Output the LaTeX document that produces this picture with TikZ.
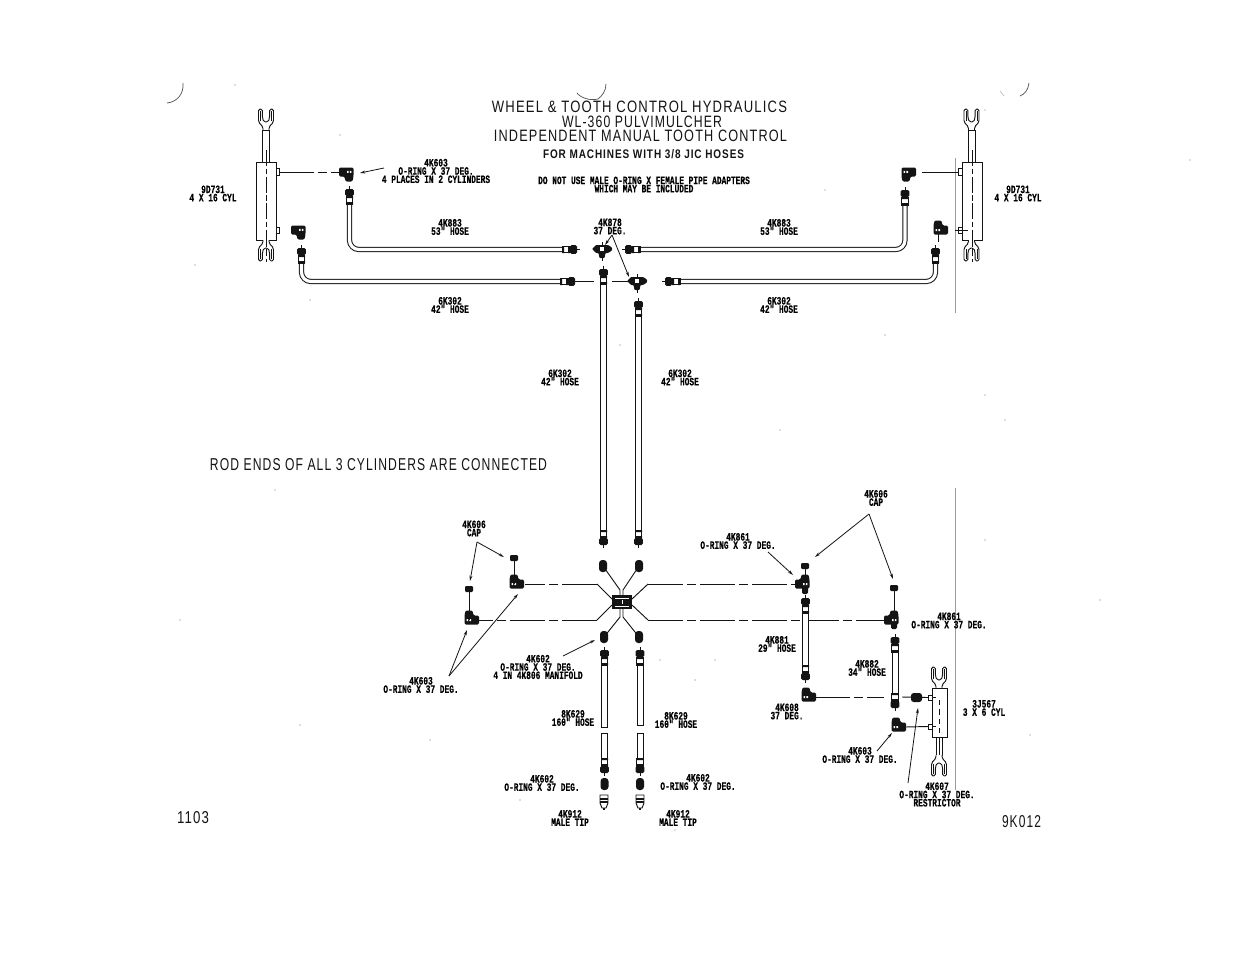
\documentclass[tikz,border=0pt]{standalone}
\usepackage{fontspec}
\usepackage{graphicx}
\usetikzlibrary{arrows.meta,calc}
\setmainfont{Liberation Sans}[LetterSpace=9]
\newfontfamily\lblfont{Liberation Mono}[FakeStretch=0.70,BoldFeatures={FakeBold=.35}]
\newcommand\lblsetup{\lblfont\bfseries\fontsize{8.4pt}{6.2pt}\selectfont\setlength{\lineskiplimit}{-10pt}}
\newlength\pxu \setlength\pxu{0.75pt}
\definecolor{ink}{HTML}{141414}
\definecolor{rule}{HTML}{9A9A9A}
\definecolor{arc}{HTML}{555555}
\definecolor{speck}{HTML}{BDBDBD}
\tikzset{
 ln/.style={draw=ink,line width=.7pt},
 thin ln/.style={draw=ink,line width=.5pt},
 dd/.style={ln,dash pattern=on 26pt off 3pt on 7pt off 3pt},
 lead/.style={draw=ink,line width=.6pt,-{Stealth[length=4pt,width=2.2pt]}},
 hose/.style={draw=ink,line width=.75pt,double=white,double distance=2.4pt,rounded corners=7pt},
 hosebar/.style={draw=ink,line width=.55pt,fill=white},
 lbl/.style={inner sep=0pt,align=center,font=\lblsetup},
 cap text/.style={inner sep=0pt,text=ink},
 hosefit/.pic={
   \draw[ln,fill=white] (0,-3.3) rectangle (8,3.3);
   \fill[ink] (0,-3.5) rectangle (2,3.5) (6,-3.5) rectangle (8,3.5);
   \fill[ink,rounded corners=1pt] (8,-4.3) rectangle (15,4.3);
   \draw[ln] (15,0) -- (18,0);},
 elbow/.pic={
   \fill[ink,rounded corners=1pt] (-4.5,-4.5) -- (10,-4.5) -- (10,4.5) -- (4.5,4.5) -- (3.5,9.5) -- (-3.5,9.5) -- (-4.5,4.5) -- cycle;
   \fill[white] (-2.4,-1.2) rectangle (-.8,.8) (.4,-1.2) rectangle (2,.8);},
 teefit/.pic={
   \fill[ink,rounded corners=.6pt] (-10,0) -- (-6,-4) -- (6,-4) -- (10,-1.5) -- (10,1.5) -- (6,4) -- (3.5,4) -- (2.5,9) -- (-2.5,9) -- (-3.5,4) -- (-6,4) -- cycle;
   \fill[white] (-1.8,-1.8) rectangle (1.8,1.8);
   \draw[ln] (0,-7) -- (0,-3) (0,8) -- (0,12);},
 nutblob/.pic={\fill[ink,rounded corners=2.4pt] (-4,-6) rectangle (4,6);},
 capblob/.pic={\fill[ink,rounded corners=.8pt] (-4,-3) rectangle (4,3);},
 tipfit/.pic={
   \draw[ln,fill=white] (-4,-7) -- (4,-7) -- (4,1) -- (2,6) -- (-2,6) -- (-4,1) -- cycle;
   \draw[ln,line width=1pt] (-4,-3) -- (4,-3) (-4,0) -- (4,0) (0,6) -- (0,8);},
 clevis/.pic={
   \draw[ln,fill=white,rounded corners=1.2pt] (-3,0) -- (-3,-3) -- (-7.5,-8) -- (-7.5,-21) -- (-3.6,-21) -- (-3.6,-12) -- (-2,-8) -- (2,-8) -- (3.6,-12) -- (3.6,-21) -- (7.5,-21) -- (7.5,-8) -- (3,-3) -- (3,0);
   \draw[thin ln] (-5.6,-19) -- (-5.6,-9) (5.6,-19) -- (5.6,-9);},
}
\begin{document}
\begin{tikzpicture}[x=.75pt,y=-.75pt]
\useasboundingbox (0,0) rectangle (1235,954);
\fill[white] (0,0) rectangle (1235,954);
% scan marks
\draw[draw=arc,line width=.55pt] (183,83) .. controls (184,94) and (177,102) .. (167,103);
\draw[draw=arc,line width=.55pt] (606,84) .. controls (606,91) and (602,96) .. (598,99) .. controls (590,101) and (581,98) .. (577,93);
\draw[draw=arc,line width=.55pt] (1029,83) .. controls (1028,90) and (1025,94) .. (1020,96);
\draw[draw=speck,line width=.5pt] (1000,91) -- (1004,96);
\foreach \p in {(235,85),(340,135),(275,490),(195,265),(310,300),(620,345),(985,395),(985,110),(1190,160),(1005,420),(660,660),(715,660),(695,680),(1100,600),(985,540),(825,190),(520,800),(675,830),(430,740),(300,725),(180,620),(1030,735),(885,335),(780,430)}
  \fill[speck] \p circle (.8);
% vertical rules
\coordinate (ruleA) at (955,158); \coordinate (ruleB) at (955,313);
\coordinate (ruleC) at (955,488); \coordinate (ruleD) at (955,790);
\draw[draw=rule,line width=.6pt] (ruleA) -- (ruleB) (ruleC) -- (ruleD);
% titles
\node[cap text] (t1) at (639.5,107) {\resizebox{295\pxu}{11.5\pxu}{WHEEL \& TOOTH CONTROL HYDRAULICS}};
\node[cap text] (t2) at (642,121.5) {\resizebox{160\pxu}{11.5\pxu}{WL-360 PULVIMULCHER}};
\node[cap text] (t3) at (640.5,136) {\resizebox{293\pxu}{11.5\pxu}{INDEPENDENT MANUAL TOOTH CONTROL}};
\node[cap text] (t4) at (643.5,154) {\resizebox{201\pxu}{9\pxu}{\bfseries FOR MACHINES WITH 3/8 JIC HOSES}};
\node[cap text] (t5) at (378.5,465) {\resizebox{337\pxu}{12\pxu}{ROD ENDS OF ALL 3 CYLINDERS ARE CONNECTED}};
\node[cap text] (t6) at (193,817.5) {\resizebox{32\pxu}{12\pxu}{1103}};
\node[cap text] (t7) at (1021.5,822) {\resizebox{39\pxu}{12\pxu}{9K012}};
% labels
\node[lbl] (a1) at (436,171) {4K603\\O-RING X 37 DEG.\\4 PLACES IN 2 CYLINDERS};
\node[lbl] (a2) at (213,193.5) {9D731\\4 X 16 CYL};
\node[lbl] (a3) at (644,184.5) {DO NOT USE MALE O-RING X FEMALE PIPE ADAPTERS\\WHICH MAY BE INCLUDED};
\node[lbl] (a4) at (450,227) {4K883\\53" HOSE};
\node[lbl] (a5) at (450,305) {6K302\\42" HOSE};
\node[lbl] (a6) at (610,226.5) {4K878\\37 DEG.};
\node[lbl] (a7) at (779,227) {4K883\\53" HOSE};
\node[lbl] (a8) at (779,305) {6K302\\42" HOSE};
\node[lbl] (a9) at (1018,193.5) {9D731\\4 X 16 CYL};
\node[lbl] (a10) at (560,377.5) {6K302\\42" HOSE};
\node[lbl] (a11) at (680,377.5) {6K302\\42" HOSE};
\node[lbl] (b1) at (474,528.5) {4K606\\CAP};
\node[lbl] (b2) at (421,685) {4K603\\O-RING X 37 DEG.};
\node[lbl] (b3) at (538,667) {4K602\\O-RING X 37 DEG.\\4 IN 4K806 MANIFOLD};
\node[lbl] (b4) at (738,541) {4K861\\O-RING X 37 DEG.};
\node[lbl] (b5) at (876,498) {4K606\\CAP};
\node[lbl] (b6) at (949,620.5) {4K861\\O-RING X 37 DEG.};
\node[lbl] (b7) at (777,644) {4K881\\29" HOSE};
\node[lbl] (b8) at (867,668) {4K882\\34" HOSE};
\node[lbl] (b9) at (787,711.5) {4K608\\37 DEG.};
\node[lbl] (b10) at (984,708) {3J567\\3 X 6 CYL};
\node[lbl] (b11) at (860,755) {4K603\\O-RING X 37 DEG.};
\node[lbl] (b12) at (937,794.5) {4K607\\O-RING X 37 DEG.\\RESTRICTOR};
\node[lbl] (c1) at (573,718) {8K629\\160" HOSE};
\node[lbl] (c2) at (676,720) {8K629\\160" HOSE};
\node[lbl] (c3) at (542,783) {4K602\\O-RING X 37 DEG.};
\node[lbl] (c4) at (698,782) {4K602\\O-RING X 37 DEG.};
\node[lbl] (c5) at (570,818) {4K912\\MALE TIP};
\node[lbl] (c6) at (678,818) {4K912\\MALE TIP};
% left 4x16 cylinder
\pic at (266,130) {clevis};
\draw[ln,fill=white] (262.5,130) rectangle (269.5,162);
\draw[ln,fill=white] (256,162) rectangle (276,240);
\draw[thin ln,dash pattern=on 12pt off 2pt on 4pt off 2pt] (266,150) -- (266,250);
\draw[ln,fill=white] (276,168.5) rectangle (279,175.5) (276,227) rectangle (279,233.5);
\pic[yscale=-1] at (266,240) {clevis};
\draw[thin ln,dash pattern=on 5pt off 2pt] (266,240) -- (266,262);
% right 4x16 cylinder
\pic at (971.5,130) {clevis};
\draw[ln,fill=white] (968.5,130) rectangle (975,162);
\draw[ln,fill=white] (962,162) rectangle (982,240);
\draw[thin ln,dash pattern=on 12pt off 2pt on 4pt off 2pt] (972,150) -- (972,250);
\draw[ln,fill=white] (958,168.5) rectangle (962,175.5) (958,227) rectangle (962,233.5);
\pic[yscale=-1] at (971.5,240) {clevis};
\draw[thin ln,dash pattern=on 5pt off 2pt] (972,240) -- (972,262);
% top elbows and port lines
\coordinate (eTL) at (349,172); \coordinate (eTLb) at (301,230);
\coordinate (eTR) at (906,172); \coordinate (eTRb) at (938,230);
\coordinate (pTL) at (279,172); \coordinate (pTR) at (958,172);
\coordinate (pTRb) at (955,230); \coordinate (pTRc) at (968,230);
\coordinate (stubTR) at (922,172); \coordinate (stubB) at (938,242);
\draw[dd] (pTL) -- ($(eTL)+(-10,0)$);
\draw[ln] (stubTR) -- (pTR);
\draw[ln] (pTRb) -- (pTRc);
\draw[ln] (eTRb) -- (stubB);
\pic[xscale=-1] at (eTL) {elbow};
\pic[xscale=-1] at (eTLb) {elbow};
\pic at (eTR) {elbow};
\pic[yscale=-1] at (eTRb) {elbow};
% top hoses
\draw[hose] (349.5,203) -- (349.5,249.5) -- (562,249.5);
\pic[rotate=90] at (349.5,204) {hosefit};
\pic at (562,249.5) {hosefit};
\draw[hose] (301.5,262) -- (301.5,281.5) -- (560,281.5);
\pic[rotate=90] at (301.5,263) {hosefit};
\pic at (560,281.5) {hosefit};
\draw[hose] (905,205) -- (905,249.5) -- (640,249.5);
\pic[rotate=90] at (905,205) {hosefit};
\pic[rotate=180] at (640,249.5) {hosefit};
\draw[hose] (935.5,263) -- (935.5,281.5) -- (680,281.5);
\pic[rotate=90] at (935.5,263) {hosefit};
\pic[rotate=180] at (680,281.5) {hosefit};
% tees
\coordinate (teeA) at (602,249); \coordinate (teeB) at (637,281);
\pic at (teeA) {teefit};
\pic at (teeB) {teefit};
\coordinate (st1) at (577,281.5); \coordinate (st2) at (594,281.5);
\coordinate (st3) at (612,281.5); \coordinate (st4) at (629,281.5);
\draw[ln] (st1) -- (st2) (st3) -- (st4);
% long vertical hoses
\draw[hosebar] (600.5,284) rectangle (606.5,530);
\pic[rotate=90] at (603.5,284) {hosefit};
\pic[rotate=-90] at (603.5,530) {hosefit};
\draw[hosebar] (635.5,316) rectangle (641.5,530);
\pic[rotate=90] at (638.5,316) {hosefit};
\pic[rotate=-90] at (638.5,530) {hosefit};
% manifold
\coordinate (nA) at (603,566); \coordinate (nB) at (639,566);
\coordinate (nC) at (604,637); \coordinate (nD) at (639,637);
\draw[ln] (nA) -- (620,590) -- (620,596);
\draw[ln] (nB) -- (623,590) -- (623,596);
\draw[ln] (nC) -- (620,617) -- (620,608);
\draw[ln] (nD) -- (623,617) -- (623,608);
\pic at (nA) {nutblob}; \pic at (nB) {nutblob};
\pic at (nC) {nutblob}; \pic at (nD) {nutblob};
\coordinate (mUL) at (612,599); \coordinate (mLL) at (612,605);
\coordinate (mUR) at (632,599); \coordinate (mLR) at (632,605);
\draw[ln] (mUL) -- (597,584) (mLL) -- (597,620) (mUR) -- (648,584) (mLR) -- (648,620);
\fill[ink] (612,595) rectangle (632,609);
\draw[white,line width=.5pt] (615,598) -- (629,598) (615,606) -- (629,606) (622,600) -- (622,604);
% cross lines
\coordinate (eL1) at (514,584); \coordinate (eL2) at (469,620);
\coordinate (eR1) at (805,584); \coordinate (eR2) at (894,620);
\draw[dd] (597,584) -- (525,584);
\draw[dd] (597,620) -- (479,620);
\draw[dd] (648,584) -- (795,584);
\draw[dd] (648,620) -- (884,620);
\pic[yscale=-1] at (eL1) {elbow};
\pic[yscale=-1] at (eL2) {elbow};
\pic[xscale=-1,yscale=-1] at (eR1) {elbow};
\pic[xscale=-1,yscale=-1] at (eR2) {elbow};
\fill[ink,rounded corners=1pt] (802,586) rectangle (808,594) (891,622) rectangle (897,629);
% caps
\coordinate (cap1) at (514,558); \coordinate (cap2) at (469,589);
\coordinate (cap3) at (805,566); \coordinate (cap4) at (894,588);
\draw[ln] (cap1) -- (eL1) (cap2) -- (eL2) (cap3) -- (eR1) (cap4) -- (eR2);
\pic at (cap1) {capblob}; \pic at (cap2) {capblob};
\pic at (cap3) {capblob}; \pic at (cap4) {capblob};
% short hoses right
\draw[hosebar] (802.5,613) rectangle (808.5,665);
\pic[rotate=90] at (805.5,613) {hosefit};
\pic[rotate=-90] at (805.5,665) {hosefit};
\draw[hosebar] (892,652) rectangle (898,693);
\pic[rotate=90] at (895,652) {hosefit};
\pic[rotate=-90] at (895,693) {hosefit};
\coordinate (eR3) at (806,697); \coordinate (eR4) at (896,727);
\coordinate (portA) at (928,697.5); \coordinate (portB) at (928,726.5);
\draw[dd] (815,697) -- (884,697);
\draw[ln] (902,697) -- (portA);
\draw[ln] (905,727) -- (portB);
\pic[yscale=-1] at (eR3) {elbow};
\pic[yscale=-1] at (eR4) {elbow};
\fill[ink,rounded corners=2pt] (911,693) rectangle (922,702);
% 3x6 cylinder
\pic at (939,688) {clevis};
\draw[ln,fill=white] (932,688) rectangle (947,737);
\draw[ln,fill=white] (928,695) rectangle (932,700) (928,724) rectangle (932,729);
\draw[thin ln] (932,697.5) -- (936,697.5) (932,726.5) -- (936,726.5);
\draw[thin ln,dash pattern=on 4pt off 3pt] (939.5,700) -- (939.5,735);
\draw[ln,fill=white] (936,737) rectangle (942.5,755);
\draw[thin ln] (939,737) -- (939,755);
\pic[yscale=-1] at (939,755) {clevis};
% lower hoses
\draw[hosebar] (601.5,665) rectangle (607.5,727);
\pic[rotate=90] at (604.5,665) {hosefit};
\draw[hosebar] (601.5,733) rectangle (607.5,758);
\pic[rotate=-90] at (604.5,758) {hosefit};
\draw[hosebar] (637,665) rectangle (643,725);
\pic[rotate=90] at (640,665) {hosefit};
\draw[hosebar] (637,733) rectangle (643,758);
\pic[rotate=-90] at (640,758) {hosefit};
\pic at (604.5,784) {nutblob}; \pic at (640,784) {nutblob};
\pic at (604,802) {tipfit}; \pic at (640,802) {tipfit};
% leaders
\coordinate (x1) at (384,168); \coordinate (x2) at (360,173);
\draw[lead] (x1) -- (x2);
\coordinate (y0) at (612,235); \coordinate (y1) at (605,245); \coordinate (y2) at (629,277);
\draw[lead] (y0) -- (y1); \draw[lead] (y0) -- (y2);
\coordinate (z0) at (477,542); \coordinate (z1) at (470,581); \coordinate (z2) at (504,557);
\draw[lead] (z0) -- (z1); \draw[lead] (z0) -- (z2);
\coordinate (w0) at (449,676); \coordinate (w1) at (467,630); \coordinate (w2) at (518,594);
\draw[lead] (w0) -- (w1); \draw[lead] (w0) -- (w2);
\coordinate (v0) at (563,656); \coordinate (v1) at (595,640);
\draw[lead] (v0) -- (v1);
\coordinate (u0) at (768,552); \coordinate (u1) at (793,575);
\draw[lead] (u0) -- (u1);
\coordinate (s0) at (869,514); \coordinate (s1) at (815,557); \coordinate (s2) at (893,579);
\draw[lead] (s0) -- (s1); \draw[lead] (s0) -- (s2);
\coordinate (r0) at (877,751); \coordinate (r1) at (892,733);
\draw[lead] (r0) -- (r1);
\coordinate (q0) at (908,783); \coordinate (q1) at (918,708);
\draw[lead] (q0) -- (q1);
\end{tikzpicture}
\end{document}
